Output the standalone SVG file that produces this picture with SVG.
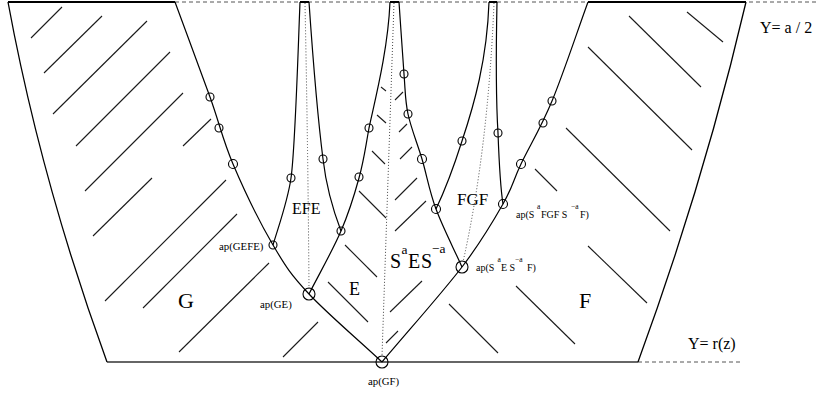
<svg xmlns="http://www.w3.org/2000/svg" width="818" height="394" viewBox="0 0 818 394">
<style>
.bd{fill:none;stroke:#000;stroke-width:1.3}
.cv{fill:none;stroke:#000;stroke-width:1.2}
.ht{stroke:#1a1a1a;stroke-width:1.1}
.dt{fill:none;stroke:#444;stroke-width:1;stroke-dasharray:1 2}
.ds{fill:none;stroke:#555;stroke-width:1;stroke-dasharray:4 3}
.pt{fill:none;stroke:#000;stroke-width:1.1}
text{font-family:"Liberation Serif","Times New Roman",serif;fill:#000}
.big{font-size:22px}
.mid{font-size:16px}
.ap{font-size:10.8px}
.aps{font-size:10px}
.sup{font-size:7.5px}
</style>
<rect width="818" height="394" fill="#fff"/>
<g id="reference-lines">
<line class="ds" x1="175" y1="2" x2="818" y2="2"/>
<line class="ds" x1="638" y1="362" x2="742" y2="362"/>
<line stroke="#000" stroke-width="2" x1="8" y1="2" x2="175" y2="2"/>
<line stroke="#000" stroke-width="2" x1="300" y1="2" x2="309" y2="2"/>
<line stroke="#000" stroke-width="2" x1="390" y1="2" x2="399" y2="2"/>
<line stroke="#000" stroke-width="2" x1="489" y1="2" x2="497" y2="2"/>
<line stroke="#000" stroke-width="2" x1="588" y1="2" x2="746" y2="2"/>
<line stroke="#333" stroke-width="1.6" x1="107" y1="362" x2="638" y2="362"/>
<text id="label-a2" class="mid" x="760" y="33">Y= a / 2</text>
<text id="label-rz" class="mid" x="688" y="349">Y= r(z)</text>
</g>
<g id="connectors">
<path class="bd" d="M8,2 Q41,181 107,362"/>
<path class="bd" d="M746,2 Q704,182 638,362"/>
<path class="cv" d="M175,2 C186.7,33.7 200.3,70 210,97 C219.7,124 222.5,139.3 233,164 C243.5,188.7 260.3,223.3 273,245 C285.7,266.7 290.8,274.5 309,294 C327.2,313.5 357.7,339.3 382,362"/>
<path class="cv" d="M588,2 C576,35 563.2,74 552,101 C540.8,128 529.2,146.8 521,164 C512.8,181.2 512.8,186.8 503,204 C493.2,221.2 482.2,240.7 462,267 C441.8,293.3 408.7,330.3 382,362"/>
<path class="cv" d="M300,2 C297,80 295,150 291,178 C288,200 279,225 273,245"/>
<path class="cv" d="M309,2 C313,60 318,120 323,159 C326,185 333,210 341,231"/>
<path class="cv" d="M390,2 C388,50 375,100 369,128 C363.8,157.3 363.7,160.8 359,178 C354.3,195.2 349.3,211.7 341,231 C332.7,250.3 319.7,273 309,294"/>
<path class="cv" d="M399,2 C400.7,26 402.5,55.3 404,74 C405.5,92.7 405,99.8 408,114 C411,128.2 417.3,143.2 422,159 C426.7,174.8 429.3,191 436,209 C442.7,227 453.3,247.7 462,267"/>
<path class="cv" d="M489,2 C487,60 474,105 462,141 C455,163 446,188 436,209"/>
<path class="cv" d="M497,2 C496,50 496,100 498,133 C499,160 500,185 503,204"/>
<path class="dt" d="M305,3 Q308,150 309,290"/>
<path class="dt" d="M394,3 L382,356"/>
<path class="dt" d="M494,3 Q488,150 463,262"/>
</g>
<g id="region-G">
<line class="ht" x1="31" y1="38" x2="62" y2="7"/>
<line class="ht" x1="44" y1="73" x2="102" y2="16"/>
<line class="ht" x1="53" y1="114" x2="147" y2="21"/>
<line class="ht" x1="76" y1="146" x2="170" y2="52"/>
<line class="ht" x1="85" y1="191" x2="183" y2="93"/>
<line class="ht" x1="183" y1="146" x2="211" y2="119"/>
<line class="ht" x1="93" y1="236" x2="152" y2="178"/>
<line class="ht" x1="105" y1="301" x2="226" y2="180"/>
<line class="ht" x1="143" y1="308" x2="237" y2="214"/>
<line class="ht" x1="179" y1="352" x2="269" y2="263"/>
<line class="ht" x1="283" y1="357" x2="318" y2="322"/>
<text class="big" x="178" y="308">G</text>
</g>
<g id="region-F">
<line class="ht" x1="687" y1="12" x2="723" y2="42"/>
<line class="ht" x1="629" y1="16" x2="701" y2="87"/>
<line class="ht" x1="588" y1="47" x2="692" y2="150"/>
<line class="ht" x1="566" y1="128" x2="670" y2="231"/>
<line class="ht" x1="535" y1="169" x2="557" y2="191"/>
<line class="ht" x1="588" y1="246" x2="647" y2="303"/>
<line class="ht" x1="516" y1="286" x2="575" y2="344"/>
<line class="ht" x1="449" y1="304" x2="498" y2="353"/>
<text class="big" x="579" y="308">F</text>
</g>
<g id="region-E">
<line class="ht" x1="345" y1="245" x2="377" y2="277"/>
<line class="ht" x1="328" y1="282" x2="368" y2="322"/>
<text x="349" y="295" style="font-size:18px">E</text>
</g>
<g id="region-EFE">
<text x="292" y="214" style="font-size:16px">EFE</text>
</g>
<g id="region-FGF">
<text x="457" y="205" style="font-size:17px">FGF</text>
</g>
<g id="region-SES">
<line class="ht" x1="381" y1="87" x2="386" y2="91"/>
<line class="ht" x1="377" y1="115" x2="386" y2="123"/>
<line class="ht" x1="372" y1="151" x2="385" y2="164"/>
<line class="ht" x1="359" y1="191" x2="386" y2="218"/>
<line class="ht" x1="395" y1="100" x2="403" y2="92"/>
<line class="ht" x1="399" y1="132" x2="407" y2="124"/>
<line class="ht" x1="400" y1="159" x2="412" y2="147"/>
<line class="ht" x1="395" y1="200" x2="417" y2="178"/>
<line class="ht" x1="395" y1="231" x2="426" y2="201"/>
<line class="ht" x1="390" y1="312" x2="422" y2="281"/>
<line class="ht" x1="386" y1="343" x2="398" y2="331"/>
<text style="font-size:20px"><tspan x="390" y="268">S</tspan><tspan x="401.5" y="254" style="font-size:13.5px">a</tspan><tspan x="408" y="268">E</tspan><tspan x="421" y="268">S</tspan><tspan x="432" y="253" style="font-size:13.5px">−a</tspan></text>
</g>
<g id="points">
<circle class="pt" cx="210" cy="97" r="4"/>
<circle class="pt" cx="219" cy="128" r="4"/>
<circle class="pt" cx="233" cy="164" r="4.5"/>
<circle class="pt" cx="291" cy="178" r="4"/>
<circle class="pt" cx="323" cy="159" r="4"/>
<circle class="pt" cx="369" cy="128" r="4"/>
<circle class="pt" cx="359" cy="177" r="4"/>
<circle class="pt" cx="341" cy="231" r="4"/>
<circle class="pt" cx="404" cy="74" r="4"/>
<circle class="pt" cx="408" cy="114" r="4"/>
<circle class="pt" cx="422" cy="159" r="4.5"/>
<circle class="pt" cx="436" cy="209" r="4.5"/>
<circle class="pt" cx="462" cy="141" r="4"/>
<circle class="pt" cx="498" cy="133" r="4"/>
<circle class="pt" cx="552" cy="101" r="4"/>
<circle class="pt" cx="543" cy="123" r="4"/>
<circle class="pt" cx="521" cy="164" r="4.5"/>
</g>
<g id="ap-GEFE">
<circle class="pt" cx="273" cy="245" r="4"/>
<text class="ap" x="219" y="250">ap(GEFE)</text>
</g>
<g id="ap-GE">
<circle class="pt" cx="309" cy="294" r="6"/>
<text class="ap" x="260" y="308">ap(GE)</text>
</g>
<g id="ap-GF">
<circle class="pt" cx="382" cy="362" r="6"/>
<text class="ap" x="368" y="385">ap(GF)</text>
</g>
<g id="ap-SFGFSF">
<circle class="pt" cx="503" cy="204" r="4.5"/>
<text class="aps"><tspan x="516" y="218">ap(S</tspan><tspan class="sup" x="537" y="209">a</tspan><tspan x="541" y="218">FGF S</tspan><tspan class="sup" x="571" y="209">−a</tspan><tspan x="580" y="218">F)</tspan></text>
</g>
<g id="ap-SESF">
<circle class="pt" cx="462" cy="267" r="6"/>
<text class="aps"><tspan x="476" y="271">ap(S</tspan><tspan class="sup" x="497.5" y="262">a</tspan><tspan x="501" y="271">E S</tspan><tspan class="sup" x="515" y="262">−a</tspan><tspan x="527" y="271">F)</tspan></text>
</g>
</svg>
